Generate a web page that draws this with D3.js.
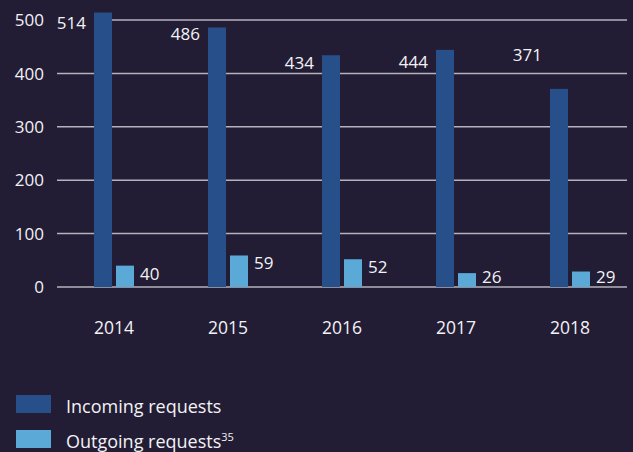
<!DOCTYPE html>
<html>
<head>
<meta charset="utf-8">
<script src="https://cdn.jsdelivr.net/npm/d3@7"></script>
<style>
  html, body { margin: 0; padding: 0; background: #221d34; }
  svg { display: block; }
  text { font-family: "Open Sans", "Noto Sans", sans-serif; fill: #f2f2f4; }
</style>
</head>
<body>
<svg width="633" height="452"></svg>
<script>
// chart data
var years = ["2014", "2015", "2016", "2017", "2018"];
var incoming = [514, 486, 434, 444, 371];
var outgoing = [40, 59, 52, 26, 29];
var yTicks = [0, 100, 200, 300, 400, 500];
var seriesNames = ["Incoming requests", "Outgoing requests"];

var svg = d3.select("svg");
var W = 633, H = 452;
var bg = "#221d34";

svg.append("rect").attr("width", W).attr("height", H).attr("fill", bg);

var colors = { in: "#27508a", out: "#5aa9d6" };

var x = d3.scaleBand().domain(years).range([57, 627]).padding(0);
var sub = d3.scaleBand().domain(["in", "out"]).range([-20, 20]).paddingInner(2 / 11);
var y = d3.scaleLinear().domain([0, 500]).range([287, 20]);

// gridlines
svg.selectAll(".grid")
    .data(yTicks)
    .enter().append("line")
    .attr("x1", 57)
    .attr("x2", 627)
    .attr("y1", d => y(d))
    .attr("y2", d => y(d))
    .attr("stroke", "#b4b3bd")
    .attr("stroke-width", 1.5);

// y tick labels
svg.selectAll(".ytick")
    .data(yTicks)
    .enter().append("text")
    .attr("x", 44)
    .attr("y", d => y(d))
    .attr("dy", "0.36em")
    .attr("text-anchor", "end")
    .style("font-size", "17px")
    .text(d => d);

var rows = years.map((yr, i) => ({ year: yr, inc: incoming[i], out: outgoing[i] }));

// little nudges so the incoming labels sit where the original put them
var incLabelDy = [16, 13, 14, 18, -28];

var cx = d => x(d.year) + x.bandwidth() / 2;

svg.selectAll(".bar-in")
    .data(rows)
    .enter().append("rect")
    .attr("x", d => cx(d) + sub("in"))
    .attr("width", sub.bandwidth())
    .attr("y", d => y(d.inc))
    .attr("height", d => y(0) - y(d.inc))
    .attr("fill", colors.in);

svg.selectAll(".bar-out")
    .data(rows)
    .enter().append("rect")
    .attr("x", d => cx(d) + sub("out"))
    .attr("width", sub.bandwidth())
    .attr("y", d => y(d.out))
    .attr("height", d => y(0) - y(d.out))
    .attr("fill", colors.out);

// value labels (incoming ones get a background box, it hides the gridline behind 514)
var inLab = svg.selectAll(".lab-in")
    .data(rows)
    .enter().append("g");

inLab.append("rect")
    .attr("x", d => cx(d) + sub("in") - 40)
    .attr("width", 40)
    .attr("y", (d, i) => y(d.inc) + incLabelDy[i] - 14)
    .attr("height", 16)
    .attr("fill", bg);

inLab.append("text")
    .attr("x", d => cx(d) + sub("in") - 8)
    .attr("y", (d, i) => y(d.inc) + incLabelDy[i])
    .attr("text-anchor", "end")
    .style("font-size", "17px")
    .text(d => d.inc);

svg.selectAll(".lab-out")
    .data(rows)
    .enter().append("text")
    .attr("x", d => cx(d) + sub("out") + sub.bandwidth() + 6)
    .attr("y", d => Math.min(y(d.out) + 14, 283))
    .style("font-size", "17px")
    .text(d => d.out);

// year labels
svg.selectAll(".xtick")
    .data(years)
    .enter().append("text")
    .attr("x", d => x(d) + x.bandwidth() / 2)
    .attr("y", 334)
    .attr("text-anchor", "middle")
    .style("font-size", "17.5px")
    .text(d => d);

// legend
var legend = svg.selectAll(".legend")
    .data(seriesNames)
    .enter().append("g")
    .attr("transform", (d, i) => `translate(16, ${395 + i * 35})`);

legend.append("rect")
    .attr("width", 35)
    .attr("height", 18)
    .attr("fill", (d, i) => i === 0 ? colors.in : colors.out);

var lt = legend.append("text")
    .attr("x", 50)
    .attr("y", 18)
    .style("font-size", "18px")
    .text(d => d);

lt.filter((d, i) => i === 1)
    .append("tspan")
    .attr("dy", -7)
    .style("font-size", "11px")
    .text("35");
</script>
</body>
</html>
